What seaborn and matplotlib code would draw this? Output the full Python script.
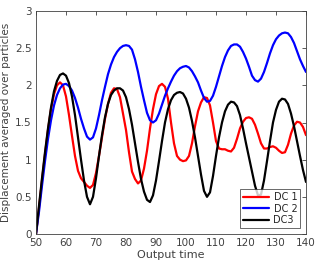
import numpy as np
import pandas as pd
import matplotlib
matplotlib.use("Agg")
import matplotlib.pyplot as plt
import seaborn as sns

t = list(range(50, 141))

dc1 = [0.0, 0.35, 0.72, 1.07, 1.40, 1.68, 1.88, 2.00, 2.04, 2.00,
       1.85, 1.60, 1.32, 1.05, 0.85, 0.75, 0.70, 0.65, 0.62, 0.66,
       0.82, 1.05, 1.30, 1.55, 1.75, 1.90, 1.96, 1.95, 1.84, 1.62,
       1.40, 1.10, 0.84, 0.74, 0.68, 0.72, 0.88, 1.12, 1.42, 1.68,
       1.88, 1.99, 2.02, 1.98, 1.82, 1.50, 1.22, 1.05, 1.00, 0.98,
       0.99, 1.05, 1.22, 1.45, 1.65, 1.77, 1.84, 1.83, 1.73, 1.50,
       1.25, 1.15, 1.14, 1.14, 1.12, 1.11, 1.16, 1.28, 1.42, 1.51,
       1.56, 1.57, 1.55, 1.47, 1.35, 1.22, 1.15, 1.15, 1.17, 1.18,
       1.16, 1.12, 1.09, 1.10, 1.20, 1.35, 1.46, 1.51, 1.50, 1.44,
       1.33]

dc2 = [0.0, 0.30, 0.65, 0.98, 1.28, 1.53, 1.73, 1.87, 1.96, 2.01,
       2.02, 1.99, 1.93, 1.83, 1.70, 1.55, 1.42, 1.31, 1.27, 1.30,
       1.42, 1.60, 1.80, 1.98, 2.15, 2.28, 2.38, 2.45, 2.50, 2.53,
       2.54, 2.53, 2.48, 2.35, 2.18, 1.98, 1.80, 1.63, 1.53, 1.50,
       1.53, 1.62, 1.74, 1.86, 1.96, 2.05, 2.13, 2.19, 2.23, 2.25,
       2.26, 2.24, 2.19, 2.12, 2.04, 1.93, 1.83, 1.78, 1.79, 1.86,
       1.98, 2.12, 2.26, 2.38, 2.47, 2.53, 2.55, 2.55, 2.52, 2.45,
       2.36, 2.25, 2.13, 2.07, 2.05, 2.09, 2.18, 2.30, 2.43, 2.54,
       2.62, 2.67, 2.70, 2.71, 2.70, 2.65, 2.57, 2.46, 2.35, 2.26,
       2.18]

dc3 = [0.0, 0.38, 0.75, 1.10, 1.42, 1.70, 1.92, 2.06, 2.14, 2.16,
       2.13, 2.03, 1.85, 1.60, 1.30, 1.00, 0.72, 0.50, 0.40, 0.50,
       0.75, 1.05, 1.33, 1.57, 1.75, 1.87, 1.93, 1.96, 1.96, 1.93,
       1.84, 1.68, 1.47, 1.22, 0.97, 0.74, 0.57, 0.46, 0.43, 0.52,
       0.72, 0.98, 1.25, 1.50, 1.68, 1.80, 1.87, 1.90, 1.91, 1.89,
       1.82, 1.70, 1.52, 1.30, 1.05, 0.80, 0.58, 0.50, 0.56, 0.78,
       1.05, 1.30, 1.50, 1.65, 1.74, 1.78, 1.77, 1.72, 1.60, 1.42,
       1.22, 1.03, 0.84, 0.65, 0.52, 0.53, 0.72, 0.98, 1.25, 1.50,
       1.67, 1.78, 1.82, 1.81, 1.75, 1.62, 1.45, 1.25, 1.05, 0.86,
       0.70]

series_names = ["DC 1", "DC 2", "DC3"]
colors = ["#ff0000", "#0000ff", "#000000"]
x_ticks = [50, 60, 70, 80, 90, 100, 110, 120, 130, 140]
y_ticks = [0, 0.5, 1, 1.5, 2, 2.5, 3]
y_tick_labels = ["0", "0.5", "1", "1.5", "2", "2.5", "3"]

df = pd.DataFrame({
    "t": t * 3,
    "v": dc1 + dc2 + dc3,
    "series": [series_names[0]] * len(t) + [series_names[1]] * len(t) + [series_names[2]] * len(t),
})

sns.set_style("white")
plt.rcParams["font.family"] = ["DejaVu Sans"]

fig = plt.figure(figsize=(3.2, 2.67), dpi=100)
ax = fig.add_axes([36 / 320, 1 - 234 / 267, 270 / 320, 223 / 267])

sns.lineplot(data=df, x="t", y="v", hue="series", palette=colors,
             linewidth=1.6, ax=ax, legend=True)

txt = "#404040"
ax.set_xlim(50, 140)
ax.set_ylim(0, 3)
ax.set_xticks(x_ticks)
ax.set_xticklabels([str(v) for v in x_ticks])
ax.set_yticks(y_ticks)
ax.set_yticklabels(y_tick_labels)
ax.tick_params(direction="in", length=3, width=0.6, colors="#404040",
               labelcolor=txt, labelsize=7.5, top=True, right=True, pad=3)
for s in ax.spines.values():
    s.set_color("#404040")
    s.set_linewidth(0.6)
    s.set_visible(True)

ax.set_xlabel("Output time", fontsize=8, color=txt, labelpad=1)
ax.set_ylabel("Displacement averaged over particles", fontsize=7.5,
              color=txt, labelpad=3)

leg = ax.legend(loc="lower right", fontsize=7, frameon=True, fancybox=False,
                edgecolor="#262626", handlelength=2.6, handletextpad=0.5,
                borderpad=0.3, labelspacing=0.15, borderaxespad=0.6)
leg.get_frame().set_linewidth(0.6)
for text in leg.get_texts():
    text.set_color("#262626")
for line in leg.get_lines():
    line.set_linewidth(1.6)

fig.savefig("out.png", dpi=100)
